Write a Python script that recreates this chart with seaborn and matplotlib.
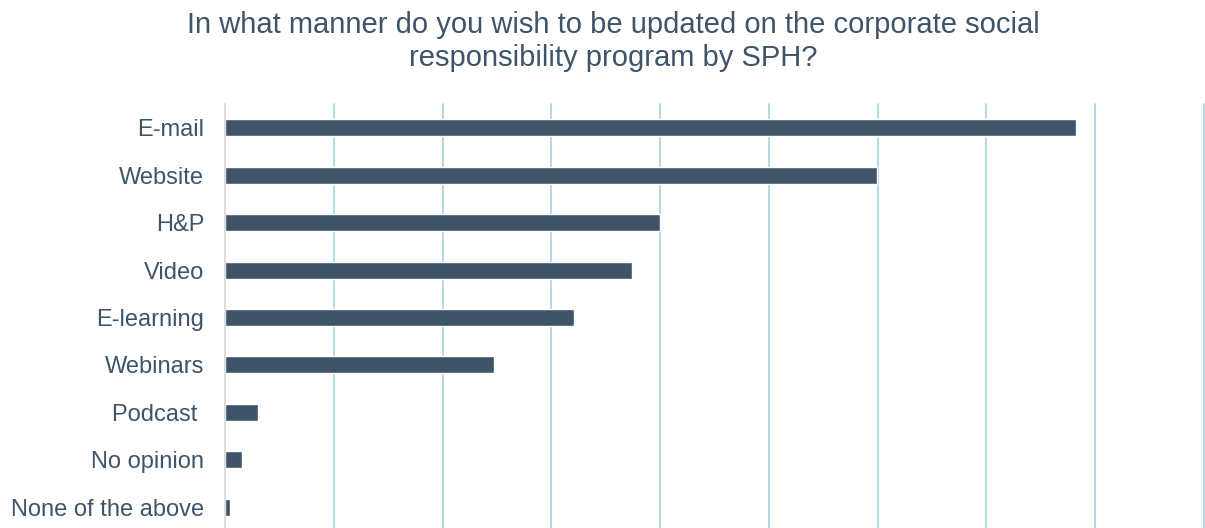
import matplotlib
matplotlib.use("Agg")
import matplotlib.pyplot as plt
import seaborn as sns
import pandas as pd

channels = ["E-mail", "Website", "H&P", "Video", "E-learning", "Webinars",
            "Podcast ", "No opinion", "None of the above"]
shares = [78.2, 59.9, 40.0, 37.4, 32.1, 24.7, 3.0, 1.6, 0.5]

title = "In what manner do you wish to be updated on the corporate social\nresponsibility program by SPH?"

text_color = "#3F5469"
bar_color = "#3F5469"
grid_color = "#A9D9E1"

sns.set_theme(style="white")
plt.rcParams["font.family"] = ["Liberation Sans", "DejaVu Sans"]

df = pd.DataFrame({"channel": channels, "share": shares})

fig = plt.figure(figsize=(12.05, 5.28), dpi=100)
ax = fig.add_axes([225 / 1205, -3 / 528, (1204 - 225) / 1205, (531 - 104) / 528])

sns.barplot(data=df, x="share", y="channel", orient="h", color=bar_color,
            width=0.36, saturation=1, ax=ax, zorder=3)

ax.set_xlim(0, 90)
ax.set_ylim(8.5, -0.5)
ax.set_xticks(range(10, 100, 10))
ax.xaxis.grid(True, color=grid_color, linewidth=1.3, zorder=0)
ax.tick_params(axis="x", length=0, labelbottom=False)
ax.tick_params(axis="y", length=0, pad=15, labelsize=17, labelcolor=text_color)
ax.set_xlabel("")
ax.set_ylabel("")
for side in ["top", "right", "bottom"]:
    ax.spines[side].set_visible(False)
ax.spines["left"].set_color("#D9D9D9")
ax.spines["left"].set_linewidth(1.3)
ax.spines["left"].set_zorder(4)
for ln in ax.get_xgridlines():
    ln.set_clip_on(False)

fig.text(0.5089, 0.98, title, ha="center", va="top", fontsize=21,
         color=text_color, linespacing=1.26)

fig.savefig("out.png", dpi=100)
